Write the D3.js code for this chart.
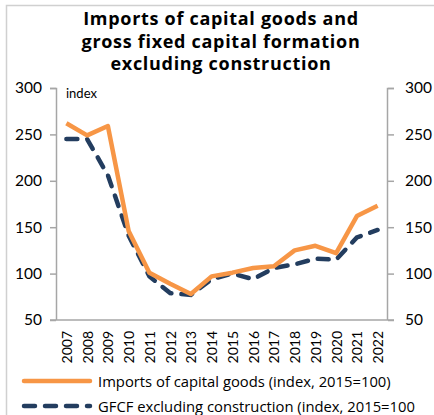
<!DOCTYPE html>
<html>
<head>
<meta charset="utf-8">
<script src="https://cdn.jsdelivr.net/npm/d3@7"></script>
<style>
  body { margin: 0; background: #fff; }
  svg { display: block; font-family: Lato, "Open Sans", sans-serif; }
</style>
</head>
<body>
<div id="chart"></div>
<script>
// data
const years = ["2007", "2008", "2009", "2010", "2011", "2012", "2013", "2014",
    "2015", "2016", "2017", "2018", "2019", "2020", "2021", "2022"];
const imports = [262, 249, 259, 146, 101, 89, 78, 97, 101, 106, 108, 125, 130, 122, 162, 173];
const gfcf = [245, 245, 206, 141, 97, 79, 77, 94, 100, 94, 106, 110, 116, 115, 139, 147];
const yTicks = [50, 100, 150, 200, 250, 300];
const titleLines = ["Imports of capital goods and", "gross fixed capital formation", "excluding construction"];
const legendLabels = ["Imports of capital goods (index, 2015=100)", "GFCF excluding construction (index, 2015=100"];

const w = 434, h = 415;
const margin = { left: 56, right: 46, top: 88, bottom: 95 };
const gw = w - margin.left - margin.right;
const gh = h - margin.top - margin.bottom;
const orange = "#f79646", navy = "#233d5f", grey = "#a6a6a6";

const svg = d3.select("#chart").append("svg")
    .attr("width", w)
    .attr("height", h);

// outer frame
svg.append("path")
    .attr("d", `M6.5,${h}V5.5H${w}`)
    .attr("fill", "none")
    .attr("stroke", "#d0d0d0")
    .attr("stroke-width", 1.5);

//title
svg.append("g").selectAll("text")
    .data(titleLines)
    .join("text")
    .text(d => d)
    .attr("x", 221)
    .attr("y", (d, i) => 25 + i * 22.5)
    .attr("text-anchor", "middle")
    .attr("font-family", "'Open Sans', sans-serif")
    .attr("font-size", "18px")
    .attr("letter-spacing", "0.7px")
    .attr("font-weight", "bold")
    .attr("fill", "#000");

const graph = svg.append("g")
    .attr("transform", `translate(${margin.left},${margin.top})`);

//scales
const xScale = d3.scalePoint().domain(years).range([0, gw]).padding(0.5);
const yScale = d3.scaleLinear().domain([50, 300]).range([gh, 0]);

//axis
const yLeft = d3.axisLeft(yScale).tickValues(yTicks).tickSize(6).tickPadding(8);
const yRight = d3.axisRight(yScale).tickValues(yTicks).tickSize(6).tickPadding(11);
const xaxis = d3.axisBottom(xScale).tickSize(0).tickPadding(0);

const styleAxis = g => {
    g.select(".domain").attr("stroke", grey).attr("stroke-width", 1.5);
    g.selectAll(".tick line").attr("stroke", grey).attr("stroke-width", 1.5);
    g.selectAll("text")
        .attr("font-family", "Lato, 'Open Sans', sans-serif")
        .attr("font-size", "15.5px")
        .attr("fill", "#000");
};

graph.append("g").call(yLeft).call(styleAxis)
    .call(g => g.select(".domain").attr("d", `M-6,0.5H0.5V${gh}`));
graph.append("g").attr("transform", `translate(${gw},0)`).call(yRight).call(styleAxis)
    .call(g => g.select(".domain").attr("d", `M6,0.5H-0.5V${gh}`));

const xgrp = graph.append("g")
    .attr("transform", `translate(0,${gh})`)
    .call(xaxis)
    .call(styleAxis);
xgrp.select(".domain").attr("d", `M-6,0H${gw + 6}`);
xgrp.selectAll("text")
    .attr("font-size", "14px")
    .attr("transform", "rotate(-90)")
    .attr("text-anchor", "end")
    .attr("dy", "0.35em")
    .attr("x", -11)
    .attr("y", 0);

graph.append("text")
    .text("index")
    .attr("x", 10)
    .attr("y", 10)
    .attr("font-size", "13px")
    .attr("fill", "#000");

//lines
const line = d3.line()
    .x((d, i) => xScale(years[i]))
    .y(d => yScale(d));

graph.append("path")
    .datum(gfcf)
    .attr("d", line)
    .attr("fill", "none")
    .attr("stroke", navy)
    .attr("stroke-width", 4.5)
    .attr("stroke-linecap", "round")
    .attr("stroke-dasharray", "11,10");

graph.append("path")
    .datum(imports)
    .attr("d", line)
    .attr("fill", "none")
    .attr("stroke", orange)
    .attr("stroke-width", 4.5)
    .attr("stroke-linejoin", "round");

//legend
const legend = svg.append("g");
const items = [
    { label: legendLabels[0], color: orange, dash: null, y: 381 },
    { label: legendLabels[1], color: navy, dash: "11,10", y: 406 }
];
items.forEach(it => {
    legend.append("line")
        .attr("x1", 24).attr("x2", 90)
        .attr("y1", it.y).attr("y2", it.y)
        .attr("stroke", it.color)
        .attr("stroke-width", 4.5)
        .attr("stroke-linecap", "round")
        .attr("stroke-dasharray", it.dash);
    legend.append("text")
        .text(it.label)
        .attr("x", 98)
        .attr("y", it.y + 5.5)
        .attr("font-family", "'Open Sans', sans-serif")
        .attr("font-size", "14.8px")
        .attr("fill", "#000");
});
</script>
</body>
</html>
